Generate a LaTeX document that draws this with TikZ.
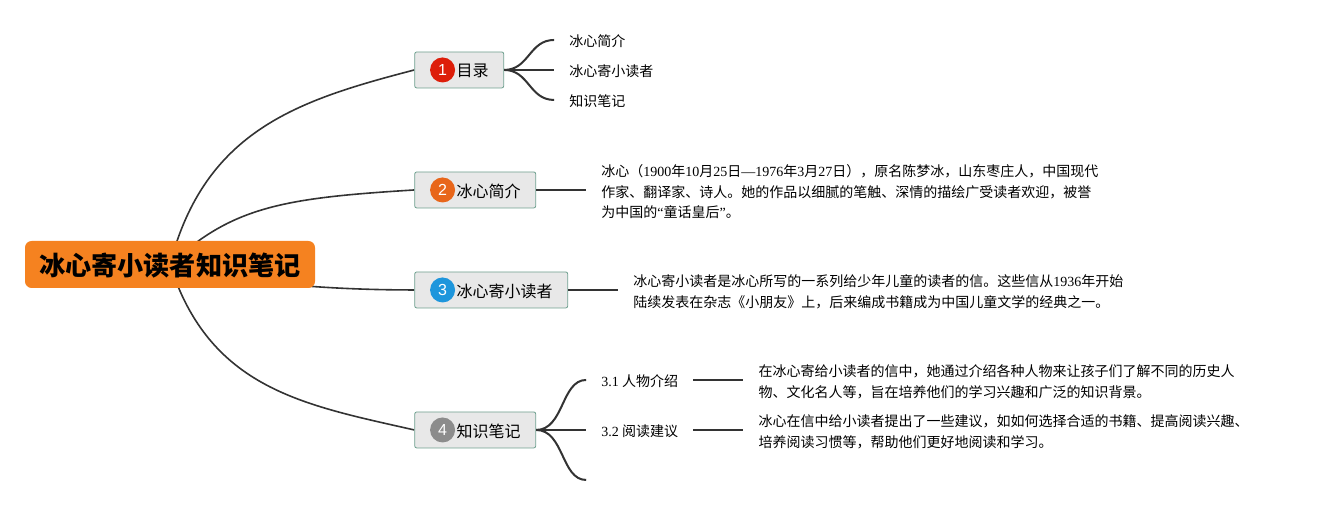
\documentclass[tikz,border=0pt]{standalone}
\usepackage{fontspec}
\setmainfont{Noto Sans CJK SC}
\setsansfont{Liberation Sans}
\newfontfamily\latfont{Liberation Serif}
\newcommand{\lat}[1]{{\latfont #1}}
\newcommand{\topictext}[1]{\hspace*{20.25pt}\raisebox{-1pt}{#1}}
\usetikzlibrary{positioning,backgrounds}
\definecolor{rootorange}{HTML}{F58220}
\definecolor{topicgray}{HTML}{E8E8E8}
\definecolor{topicedge}{HTML}{6FA08F}
\definecolor{linegray}{HTML}{333333}
\definecolor{badgered}{HTML}{DD1E0A}
\definecolor{badgeorange}{HTML}{E8661A}
\definecolor{badgeblue}{HTML}{1E96DC}
\definecolor{badgegray}{HTML}{8C8C8C}
\tikzstyle{root} = [rectangle, rounded corners=5pt, minimum width=217.5pt, minimum height=35.25pt, text depth=0pt, fill=rootorange, font=\fontsize{19.6}{22}\selectfont\bfseries]
\tikzstyle{topic} = [rectangle, rounded corners=1.5pt, minimum height=27pt, inner xsep=11.25pt, inner ysep=0pt, text depth=0pt, fill=topicgray, draw=topicedge, line width=0.6pt, font=\fontsize{12}{14}\selectfont]
\tikzstyle{badge} = [circle, minimum size=18.75pt, inner sep=0pt, text=white, font=\sffamily\fontsize{12}{14}\selectfont]
\tikzstyle{leaf} = [rectangle, inner xsep=11.25pt, inner ysep=0pt, text depth=0pt, yshift=-0.8pt, align=left, font=\fontsize{10.5}{15.2}\selectfont]
\tikzstyle{main} = [line width=1.2pt, draw=linegray]
\tikzstyle{branch} = [line width=1.5pt, draw=linegray]

\begin{document}
\begin{tikzpicture}[x=0.75pt, y=-0.75pt, node distance=37.5pt]
    \useasboundingbox (0,0) rectangle (1318,505);
    \node (root) [root] at (170,264.5) {冰心寄小读者知识笔记};

    \node (topic1) [topic, right=74.3pt of root, yshift=145.9pt] {\topictext{目录}};
    \node (topic2) [topic, right=74.3pt of root, yshift=55.9pt] {\topictext{冰心简介}};
    \node (topic3) [topic, right=74.3pt of root, yshift=-19.1pt] {\topictext{冰心寄小读者}};
    \node (topic4) [topic, right=74.3pt of root, yshift=-124.1pt] {\topictext{知识笔记}};

    \node (badge1) [badge, fill=badgered, right=11.6pt of topic1.west] {1};
    \node (badge2) [badge, fill=badgeorange, right=11.6pt of topic2.west] {2};
    \node (badge3) [badge, fill=badgeblue, right=11.6pt of topic3.west] {3};
    \node (badge4) [badge, fill=badgegray, right=11.6pt of topic4.west] {4};

    \node (leaf11) [leaf, right=of topic1, yshift=22.5pt] {冰心简介};
    \node (leaf12) [leaf, right=of topic1] {冰心寄小读者};
    \node (leaf13) [leaf, right=of topic1, yshift=-22.5pt] {知识笔记};

    \node (text2) [leaf, right=of topic2] {冰心（\lat{1900}年\lat{10}月\lat{25}日\lat{—1976}年\lat{3}月\lat{27}日），原名陈梦冰，山东枣庄人，中国现代\\作家、翻译家、诗人。她的作品以细腻的笔触、深情的描绘广受读者欢迎，被誉\\为中国的\lat{“}童话皇后\lat{”}。};
    \node (text3) [leaf, right=of topic3] {冰心寄小读者是冰心所写的一系列给少年儿童的读者的信。这些信从\lat{1936}年开始\\陆续发表在杂志《小朋友》上，后来编成书籍成为中国儿童文学的经典之一。};

    \node (leaf41) [leaf, right=of topic4, yshift=37.5pt] {\lat{3.1} 人物介绍};
    \node (leaf42) [leaf, right=of topic4] {\lat{3.2} 阅读建议};
    \coordinate (leaf43) at ([xshift=37.5pt, yshift=-37.5pt]topic4.east);
    \node (text41) [leaf, right=of leaf41, yshift=0.8pt] {在冰心寄给小读者的信中，她通过介绍各种人物来让孩子们了解不同的历史人\\物、文化名人等，旨在培养他们的学习兴趣和广泛的知识背景。};
    \node (text42) [leaf, right=of leaf42, yshift=0.8pt] {冰心在信中给小读者提出了一些建议，如如何选择合适的书籍、提高阅读兴趣、\\培养阅读习惯等，帮助他们更好地阅读和学习。};

    \begin{scope}[on background layer]
        \draw [main] (root.center) .. controls +(35,-135) and +(-115,30) .. (topic1.west);
        \draw [main] (root.center) .. controls +(62,-58) and +(-130,8) .. (topic2.west);
        \draw [main] (root.center) .. controls +(80,22) and +(-60,0) .. (topic3.west);
        \draw [main] (root.center) .. controls +(40,125) and +(-110,-25) .. (topic4.west);
    \end{scope}

    \draw [branch] (topic1.east) .. controls +(25,0) and +(-25,0) .. ([yshift=0.8pt]leaf11.west);
    \draw [branch] (topic1.east) -- ([yshift=0.8pt]leaf12.west);
    \draw [branch] (topic1.east) .. controls +(25,0) and +(-25,0) .. ([yshift=0.8pt]leaf13.west);
    \draw [branch] (topic2.east) -- ([yshift=0.8pt]text2.west);
    \draw [branch] (topic3.east) -- ([yshift=0.8pt]text3.west);
    \draw [branch] (topic4.east) .. controls +(28,0) and +(-25,0) .. ([yshift=0.8pt]leaf41.west);
    \draw [branch] (topic4.east) -- ([yshift=0.8pt]leaf42.west);
    \draw [branch] (topic4.east) .. controls +(28,0) and +(-25,0) .. (leaf43);
    \draw [branch] ([yshift=0.8pt]leaf41.east) -- ([yshift=0.8pt]text41.west);
    \draw [branch] ([yshift=0.8pt]leaf42.east) -- ([yshift=0.8pt]text42.west);
\end{tikzpicture}
\end{document}
